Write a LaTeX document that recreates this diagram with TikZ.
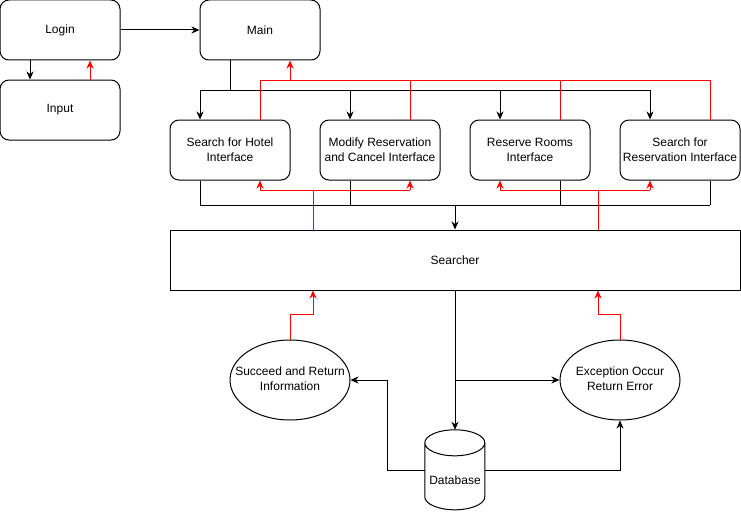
\documentclass[tikz,border=0pt]{standalone}
\usepackage{fontspec}
\setmainfont{Liberation Sans}
\usetikzlibrary{arrows.meta,shapes.geometric,positioning}

% keep the ellipse at its own size, whatever the text width
\newcommand{\ovallabel}[1]{\makebox[0pt]{\begin{tabular}{@{}c@{}}#1\end{tabular}}}

\begin{document}
\begin{tikzpicture}[x=1pt,y=1pt,
  font=\fontsize{12pt}{15pt}\selectfont,
  box/.style={draw, line width=1pt, rounded corners=9pt, minimum width=120pt, minimum height=60pt, inner sep=2pt, align=center},
  oval/.style={draw, line width=1pt, ellipse, minimum width=120pt, minimum height=80pt, inner sep=0pt},
  wire/.style={line width=1pt},
  redwire/.style={line width=1pt, red},
  link/.style={wire, -{Stealth[length=8pt,width=7pt,inset=2.5pt]}},
  redlink/.style={redwire, -{Stealth[length=8pt,width=7pt,inset=2.5pt]}}]

  \useasboundingbox (0,0) rectangle (741,-511);

  % top row
  \node[box] (login) at (60,-30) {Login};
  \node[box, right=79pt of login] (main) {Main};
  \node[box, below=19pt of login] (input) {Input};

  % interfaces
  \node[box] (hotel) at (230,-150) {Search for Hotel\\Interface};
  \node[box, right=29pt of hotel] (modify) {Modify Reservation\\and Cancel Interface};
  \node[box, right=29pt of modify] (reserve) {Reserve Rooms\\Interface};
  \node[box, right=29pt of reserve] (searchres) {Search for\\Reservation Interface};

  \node[draw, line width=1pt, minimum width=570pt, minimum height=60pt] (searcher) at (455,-260) {Searcher};

  % results
  \node[oval] (succeed) at (290,-380) {\ovallabel{Succeed and Return\\Information}};
  \node[oval] (exception) at (620,-380) {\ovallabel{Exception Occur\\Return Error}};

  % database
  \node[minimum width=60pt, minimum height=80pt, inner sep=0pt] (db) at (455,-470) {};
  \draw[wire, fill=white] ([yshift=-13pt]db.north west) -- ++(0,-54)
    arc[start angle=180, end angle=360, x radius=30pt, y radius=13pt] -- ++(0,54)
    arc[start angle=0, end angle=180, x radius=30pt, y radius=13pt]
    arc[start angle=180, end angle=360, x radius=30pt, y radius=13pt];
  \node (dblabel) at (455,-480) {Database};

  \coordinate (topbus) at (0,-90);
  \coordinate (redbus) at (0,-80);
  \coordinate (lowbus) at (0,-205);
  \coordinate (redlow) at (0,-190);

  % login
  \draw[link] (login) -- (main);
  \draw[link] ([xshift=-30pt]login.south) -- ([xshift=-30pt]input.north);
  \draw[redlink] ([xshift=30pt]input.north) -- ([xshift=30pt]login.south);

  % main to interfaces
  \draw[wire] ([xshift=-30pt]main.south) -- ([xshift=-30pt]main.south |- topbus);
  \draw[wire] ([xshift=-30pt]hotel.north |- topbus) -- ([xshift=-30pt]searchres.north |- topbus);
  \foreach \n in {hotel,modify,reserve,searchres}
    \draw[link] ([xshift=-30pt]\n.north |- topbus) -- ([xshift=-30pt]\n.north);

  % interfaces back to main
  \foreach \n in {hotel,modify,reserve,searchres}
    \draw[redwire] ([xshift=30pt]\n.north) -- ([xshift=30pt]\n.north |- redbus);
  \draw[redwire] ([xshift=30pt]hotel.north |- redbus) -- ([xshift=30pt]searchres.north |- redbus);
  \draw[redlink] ([xshift=30pt]main.south |- redbus) -- ([xshift=30pt]main.south);

  % interfaces to searcher
  \draw[wire] ([xshift=-30pt]hotel.south) -- ([xshift=-30pt]hotel.south |- lowbus);
  \draw[wire] ([xshift=-30pt]modify.south) -- ([xshift=-30pt]modify.south |- lowbus);
  \draw[wire] ([xshift=30pt]reserve.south) -- ([xshift=30pt]reserve.south |- lowbus);
  \draw[wire] ([xshift=30pt]searchres.south) -- ([xshift=30pt]searchres.south |- lowbus);
  \draw[wire] ([xshift=-30pt]hotel.south |- lowbus) -- ([xshift=30pt]searchres.south |- lowbus);
  \draw[link] (searcher.north |- lowbus) -- (searcher.north);

  % searcher back to interfaces
  \draw[redwire] ([xshift=-142pt]searcher.north) -- ([xshift=-142pt]searcher.north |- redlow);
  \draw[redwire] ([xshift=30pt]hotel.south |- redlow) -- ([xshift=30pt]modify.south |- redlow);
  \draw[redlink] ([xshift=30pt]hotel.south |- redlow) -- ([xshift=30pt]hotel.south);
  \draw[redlink] ([xshift=30pt]modify.south |- redlow) -- ([xshift=30pt]modify.south);
  \draw[redwire] ([xshift=143pt]searcher.north) -- ([xshift=143pt]searcher.north |- redlow);
  \draw[redwire] ([xshift=-30pt]reserve.south |- redlow) -- ([xshift=-30pt]searchres.south |- redlow);
  \draw[redlink] ([xshift=-30pt]reserve.south |- redlow) -- ([xshift=-30pt]reserve.south);
  \draw[redlink] ([xshift=-30pt]searchres.south |- redlow) -- ([xshift=-30pt]searchres.south);

  % searcher, database and results
  \draw[link] (searcher.south) -- (db.north);
  \draw[link] (searcher.south |- exception.west) -- (exception.west);
  \draw[link] (db.west) -- ++(-37,0) |- (succeed.east);
  \draw[link] (db.east) -| (exception.south);
  \draw[redlink] (succeed.north) -- ++(0,25) -| ([xshift=-142pt]searcher.south);
  \draw[redlink] (exception.north) -- ++(0,25) -| ([xshift=143pt]searcher.south);
\end{tikzpicture}
\end{document}
